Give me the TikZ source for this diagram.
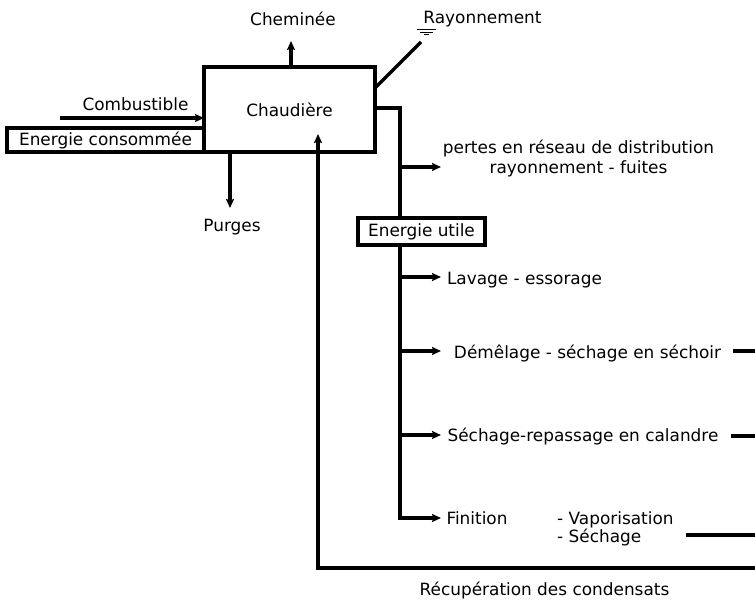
\documentclass[tikz,border=0pt]{standalone}
\usepackage{fontspec}
\setmainfont{DejaVu Sans}
\usetikzlibrary{arrows.meta}
\begin{document}
\begin{tikzpicture}[x=1pt,y=-1pt,
  ln/.style={line width=3.2pt},
  arr/.style={ln,-{Stealth[length=9pt,width=8pt,inset=1.5pt]}},
  txt/.style={font=\fontsize{16.9}{19}\selectfont, inner sep=0pt},
  lbl/.style={txt, anchor=base},
  boxn/.style={txt, draw, line width=3.2pt}
]
\useasboundingbox (0,0) rectangle (755,603);

% boxes
\node[boxn, minimum width=171pt, minimum height=85pt] (chaud) at (289.5,109.5) {Chaudière};
\node[boxn, minimum width=197pt, minimum height=24pt] (econs) at (105.5,140) {Energie consommée};
\node[boxn, minimum width=127pt, minimum height=27pt] (eutil) at (421.5,231.5) {Energie utile};

% labels
\node[lbl] (chem) at (293,25) {Cheminée};
\node[lbl] (ray) at (482.5,23) {Rayonnement};
\node[lbl] (comb) at (135.5,110) {Combustible};
\node[lbl] (purg) at (232,231) {Purges};
\node[lbl] (pert1) at (578.5,153) {pertes en réseau de distribution};
\node[lbl] (pert2) at (578.5,173) {rayonnement - fuites};
\node[lbl] (lav) at (524.5,284) {Lavage - essorage};
\node[lbl] (dem) at (587.5,358) {Démêlage - séchage en séchoir};
\node[lbl] (cal) at (583,441) {Séchage-repassage en calandre};
\node[lbl] (fin) at (477,524) {Finition};
\node[lbl, anchor=base west] (vap) at (557,524) {- Vaporisation};
\node[lbl, anchor=base west] (sech) at (557,542) {- Séchage};
\node[lbl] (recup) at (544.5,595) {Récupération des condensats};

% coordinates
\coordinate (chemS) at (291,67);
\coordinate (chemE) at (291,41);
\coordinate (rayS) at (375,88);
\coordinate (rayE) at (421,42);
\coordinate (combS) at (60,118);
\coordinate (combE) at (204,118);
\coordinate (purS) at (230,152);
\coordinate (purE) at (230,208);
\coordinate (outS) at (375,108);
\coordinate (outC) at (400,108);
\coordinate (eutT) at (400,218);
\coordinate (pertB) at (400,167);
\coordinate (pertE) at (441,167);
\coordinate (eutB) at (400,245);
\coordinate (b1) at (400,277);
\coordinate (b1e) at (441,277);
\coordinate (b2) at (400,351);
\coordinate (b2e) at (441,351);
\coordinate (b3) at (400,435);
\coordinate (b3e) at (441,435);
\coordinate (b4) at (400,518);
\coordinate (b4e) at (441,518);
\coordinate (s1) at (733,351);
\coordinate (s1e) at (755,351);
\coordinate (s2) at (731,436);
\coordinate (s2e) at (755,436);
\coordinate (s3) at (686,535);
\coordinate (s3e) at (755,535);
\coordinate (retR) at (755,568);
\coordinate (retL) at (318,568);
\coordinate (retT) at (318,134);

% connectors
\draw[arr] (chemS) -- (chemE);
\draw[ln] (rayS) -- (rayE);
\draw[line width=1.1pt] (417,29.5) -- (436,29.5) (420,32.2) -- (433,32.2) (424,34.8) -- (429,34.8);
\draw[arr] (combS) -- (combE);
\draw[arr] (purS) -- (purE);
\draw[ln] (outS) -- (outC) -- (eutT);
\draw[arr] (pertB) -- (pertE);
\draw[arr] (eutB) -- (b4) -- (b4e);
\draw[arr] (b1) -- (b1e);
\draw[arr] (b2) -- (b2e);
\draw[arr] (b3) -- (b3e);
\draw[ln] (s1) -- (s1e);
\draw[ln] (s2) -- (s2e);
\draw[ln] (s3) -- (s3e);
\draw[arr] (retR) -- (retL) -- (retT);
\end{tikzpicture}
\end{document}
